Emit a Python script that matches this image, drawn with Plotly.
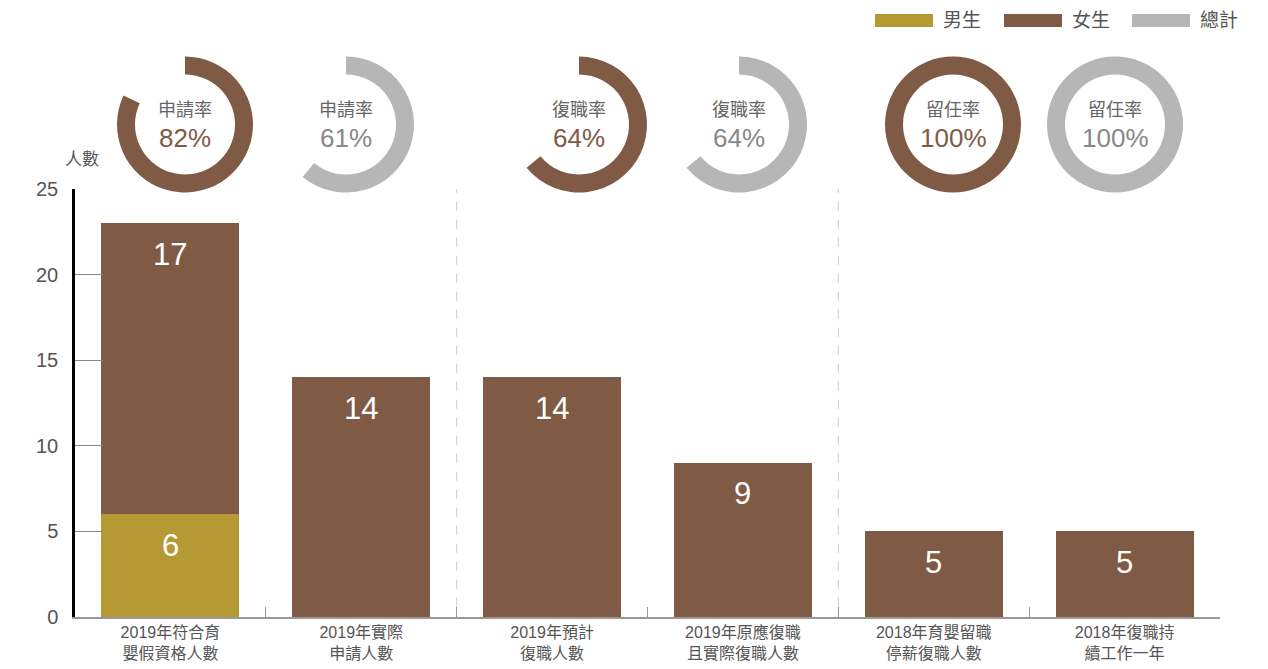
import plotly.graph_objects as go

categories = [
    "2019年符合育<br>嬰假資格人數",
    "2019年實際<br>申請人數",
    "2019年預計<br>復職人數",
    "2019年原應復職<br>且實際復職人數",
    "2018年育嬰留職<br>停薪復職人數",
    "2018年復職持<br>續工作一年",
]
male = [6, 0, 0, 0, 0, 0]
female = [17, 14, 14, 9, 5, 5]
y_ticks = [0, 5, 10, 15, 20, 25]

donut_labels = ["申請率", "申請率", "復職率", "復職率", "留任率", "留任率"]
donut_values = [82, 61, 64, 64, 100, 100]
donut_kind = ["female", "total", "female", "total", "female", "total"]
donut_centers_px = [185, 346, 579, 739, 953, 1115]

legend_names = ["男生", "女生", "總計"]

GOLD = "#B59A33"
BROWN = "#7F5B45"
GRAY = "#B5B6B5"
TXT = "#555555"
FONT = "Liberation Sans, Arial, Noto Sans CJK TC, sans-serif"

OFF = 8  # default page body margin
W, H = 1268 - 2 * OFF, 669 - 2 * OFF
SX0, SX1, SY_TOP, SY_BOT = 75, 1220, 189, 617
ML = SX0 - OFF
MR = W - (SX1 - OFF)
MB = H - (SY_BOT - OFF)
MT = 2
PW = W - ML - MR
PH = H - MT - MB


def px_x(px):
    return (px - SX0) / PW


def px_y(py):
    return (SY_BOT - py) / PH


fig = go.Figure()
fig.add_trace(go.Bar(x=categories, y=male, name="男生", marker=dict(color=GOLD, line=dict(width=0)),
                     showlegend=False, hoverinfo="skip"))
fig.add_trace(go.Bar(x=categories, y=female, name="女生", marker=dict(color=BROWN, line=dict(width=0)),
                     showlegend=False, hoverinfo="skip"))

annotations = []
for i, c in enumerate(categories):
    if male[i] > 0:
        annotations.append(dict(x=c, y=male[i], xref="x", yref="y", text=str(male[i]), showarrow=False,
                                yshift=-31, yanchor="middle",
                                font=dict(family=FONT, size=31, color="white")))
    if female[i] > 0:
        annotations.append(dict(x=c, y=male[i] + female[i], xref="x", yref="y", text=str(female[i]),
                                showarrow=False, yshift=-31, yanchor="middle",
                                font=dict(family=FONT, size=31, color="white")))

R = 68
CY = 124.5
for lab, val, kind, cx in zip(donut_labels, donut_values, donut_kind, donut_centers_px):
    col = BROWN if kind == "female" else GRAY
    tcol = BROWN if kind == "female" else "#888888"
    fig.add_trace(go.Pie(
        values=[val, 100 - val],
        marker=dict(colors=[col, "rgba(0,0,0,0)"], line=dict(width=0)),
        hole=50 / 68, sort=False, direction="clockwise", rotation=0,
        textinfo="none", hoverinfo="skip", showlegend=False,
        domain=dict(x=[px_x(cx - R), px_x(cx + R)], y=[px_y(CY + R), px_y(CY - R)]),
    ))
    annotations.append(dict(x=px_x(cx), y=px_y(110), xref="paper", yref="paper", text=lab, showarrow=False,
                            xanchor="center", yanchor="middle",
                            font=dict(family=FONT, size=18, color="#666666")))
    annotations.append(dict(x=px_x(cx), y=px_y(138), xref="paper", yref="paper", text=f"{val}%",
                            showarrow=False, xanchor="center", yanchor="middle",
                            font=dict(family=FONT, size=26, color=tcol)))

annotations.append(dict(x=px_x(82), y=px_y(159), xref="paper", yref="paper", text="人數", showarrow=False,
                        xanchor="center", yanchor="middle", font=dict(family=FONT, size=17, color=TXT)))

shapes = []
legend_colors = [GOLD, BROWN, GRAY]
legend_x = [875, 1004, 1132]
for name, col, lx in zip(legend_names, legend_colors, legend_x):
    shapes.append(dict(type="rect", xref="paper", yref="paper",
                       x0=px_x(lx), x1=px_x(lx + 58), y0=px_y(27), y1=px_y(14),
                       fillcolor=col, line=dict(width=0)))
    annotations.append(dict(x=px_x(lx + 66), y=px_y(20.5), xref="paper", yref="paper", text=name,
                            showarrow=False, xanchor="left", yanchor="middle",
                            font=dict(family=FONT, size=19, color=TXT)))

for xv in [1.5, 3.5]:
    shapes.append(dict(type="line", xref="x", yref="y", x0=xv, x1=xv, y0=0.6, y1=25.3,
                       line=dict(color="#CCCCCC", width=1, dash="dash"), layer="below"))

ax_dom_top = px_y(SY_TOP)

fig.update_layout(
    width=W, height=H,
    margin=dict(l=ML, r=MR, t=MT, b=MB, autoexpand=False),
    paper_bgcolor="white", plot_bgcolor="white",
    barmode="stack", bargap=0.277,
    font=dict(family=FONT, color=TXT),
    xaxis=dict(
        type="category", range=[-0.5, 5.5],
        showline=True, linecolor="#999999", linewidth=1.5,
        ticks="inside", tickson="boundaries", ticklen=10, tickcolor="#999999", tickwidth=1,
        showgrid=False, zeroline=False,
        tickfont=dict(family=FONT, size=16, color=TXT),
        domain=[0, 1],
    ),
    yaxis=dict(
        range=[0, 25], tickvals=y_ticks, domain=[0, ax_dom_top],
        showline=True, linecolor="#000000", linewidth=2.5,
        ticks="inside", ticklen=28, tickcolor="#888888", tickwidth=1,
        showgrid=False, zeroline=False,
        tickfont=dict(family=FONT, size=20, color=TXT),
        ticklabelstandoff=10,
    ),
    annotations=annotations,
    shapes=shapes,
)

fig.write_html("out.html")
